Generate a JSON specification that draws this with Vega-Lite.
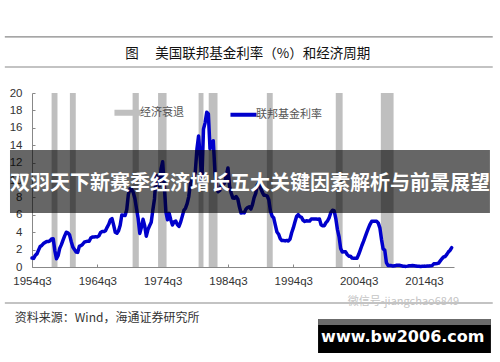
{
  "$schema": "https://vega.github.io/schema/vega-lite/v6.json",
  "width": 422,
  "height": 174,
  "autosize": "none",
  "padding": {"left": 32, "top": 93, "right": 46, "bottom": 95},
  "background": "white",
  "config": {
    "view": {"stroke": null},
    "font": "Noto Sans CJK SC",
    "axis": {"labelOverlap": false, "labelBound": false, "labelSeparation": 0}
  },
  "datasets": {
    "rate": [
      {"t":1954.5,"v":1.03},{"t":1954.75,"v":0.99},
      {"t":1955,"v":1.34},{"t":1955.25,"v":1.5},{"t":1955.5,"v":1.94},{"t":1955.75,"v":2.36},
      {"t":1956,"v":2.48},{"t":1956.25,"v":2.69},{"t":1956.5,"v":2.81},{"t":1956.75,"v":2.93},
      {"t":1957,"v":2.93},{"t":1957.25,"v":3.0},{"t":1957.5,"v":3.23},{"t":1957.75,"v":3.25},
      {"t":1958,"v":1.86},{"t":1958.25,"v":0.94},{"t":1958.5,"v":1.32},{"t":1958.75,"v":2.16},
      {"t":1959,"v":2.57},{"t":1959.25,"v":3.08},{"t":1959.5,"v":3.58},{"t":1959.75,"v":3.99},
      {"t":1960,"v":3.93},{"t":1960.25,"v":3.7},{"t":1960.5,"v":2.94},{"t":1960.75,"v":2.3},
      {"t":1961,"v":2.0},{"t":1961.25,"v":1.73},{"t":1961.5,"v":1.68},{"t":1961.75,"v":2.4},
      {"t":1962,"v":2.46},{"t":1962.25,"v":2.61},{"t":1962.5,"v":2.85},{"t":1962.75,"v":2.92},
      {"t":1963,"v":2.97},{"t":1963.25,"v":2.96},{"t":1963.5,"v":3.33},{"t":1963.75,"v":3.45},
      {"t":1964,"v":3.46},{"t":1964.25,"v":3.49},{"t":1964.5,"v":3.46},{"t":1964.75,"v":3.58},
      {"t":1965,"v":3.97},{"t":1965.25,"v":4.08},{"t":1965.5,"v":4.07},{"t":1965.75,"v":4.17},
      {"t":1966,"v":4.56},{"t":1966.25,"v":4.91},{"t":1966.5,"v":5.41},{"t":1966.75,"v":5.56},
      {"t":1967,"v":4.82},{"t":1967.25,"v":3.99},{"t":1967.5,"v":3.89},{"t":1967.75,"v":4.17},
      {"t":1968,"v":4.79},{"t":1968.25,"v":5.98},{"t":1968.5,"v":5.94},{"t":1968.75,"v":5.92},
      {"t":1969,"v":6.57},{"t":1969.25,"v":8.33},{"t":1969.5,"v":8.98},{"t":1969.75,"v":8.94},
      {"t":1970,"v":8.57},{"t":1970.25,"v":7.88},{"t":1970.5,"v":6.7},{"t":1970.75,"v":5.57},
      {"t":1971,"v":3.86},{"t":1971.25,"v":4.56},{"t":1971.5,"v":5.48},{"t":1971.75,"v":4.75},
      {"t":1972,"v":3.54},{"t":1972.25,"v":4.3},{"t":1972.5,"v":4.74},{"t":1972.75,"v":5.14},
      {"t":1973,"v":6.54},{"t":1973.25,"v":7.82},{"t":1973.5,"v":10.56},{"t":1973.75,"v":10.0},
      {"t":1974,"v":9.32},{"t":1974.25,"v":11.25},{"t":1974.5,"v":12.09},{"t":1974.75,"v":9.35},
      {"t":1975,"v":6.3},{"t":1975.25,"v":5.42},{"t":1975.5,"v":6.16},{"t":1975.75,"v":5.41},
      {"t":1976,"v":4.83},{"t":1976.25,"v":5.2},{"t":1976.5,"v":5.28},{"t":1976.75,"v":4.87},
      {"t":1977,"v":4.66},{"t":1977.25,"v":5.16},{"t":1977.5,"v":5.82},{"t":1977.75,"v":6.51},
      {"t":1978,"v":6.76},{"t":1978.25,"v":7.28},{"t":1978.5,"v":8.1},{"t":1978.75,"v":9.58},
      {"t":1979,"v":10.07},{"t":1979.25,"v":10.18},{"t":1979.5,"v":10.95},{"t":1979.75,"v":13.58},
      {"t":1980,"v":15.05},{"t":1980.25,"v":12.69},{"t":1980.5,"v":9.84},{"t":1980.75,"v":15.85},
      {"t":1981,"v":16.57},{"t":1981.25,"v":17.78},{"t":1981.5,"v":17.58},{"t":1981.75,"v":13.59},
      {"t":1982,"v":14.23},{"t":1982.25,"v":14.51},{"t":1982.5,"v":11.01},{"t":1982.75,"v":9.29},
      {"t":1983,"v":8.65},{"t":1983.25,"v":8.8},{"t":1983.5,"v":9.46},{"t":1983.75,"v":9.43},
      {"t":1984,"v":9.69},{"t":1984.25,"v":10.56},{"t":1984.5,"v":11.39},{"t":1984.75,"v":9.27},
      {"t":1985,"v":8.48},{"t":1985.25,"v":7.92},{"t":1985.5,"v":7.9},{"t":1985.75,"v":8.1},
      {"t":1986,"v":7.83},{"t":1986.25,"v":6.92},{"t":1986.5,"v":6.21},{"t":1986.75,"v":6.27},
      {"t":1987,"v":6.22},{"t":1987.25,"v":6.65},{"t":1987.5,"v":6.84},{"t":1987.75,"v":6.92},
      {"t":1988,"v":6.66},{"t":1988.25,"v":7.16},{"t":1988.5,"v":7.98},{"t":1988.75,"v":8.47},
      {"t":1989,"v":9.44},{"t":1989.25,"v":9.73},{"t":1989.5,"v":9.08},{"t":1989.75,"v":8.61},
      {"t":1990,"v":8.25},{"t":1990.25,"v":8.24},{"t":1990.5,"v":8.16},{"t":1990.75,"v":7.74},
      {"t":1991,"v":6.43},{"t":1991.25,"v":5.86},{"t":1991.5,"v":5.64},{"t":1991.75,"v":4.82},
      {"t":1992,"v":4.02},{"t":1992.25,"v":3.77},{"t":1992.5,"v":3.26},{"t":1992.75,"v":3.04},
      {"t":1993,"v":3.04},{"t":1993.25,"v":3.0},{"t":1993.5,"v":3.06},{"t":1993.75,"v":2.99},
      {"t":1994,"v":3.21},{"t":1994.25,"v":3.94},{"t":1994.5,"v":4.49},{"t":1994.75,"v":5.17},
      {"t":1995,"v":5.81},{"t":1995.25,"v":6.02},{"t":1995.5,"v":5.8},{"t":1995.75,"v":5.72},
      {"t":1996,"v":5.36},{"t":1996.25,"v":5.24},{"t":1996.5,"v":5.31},{"t":1996.75,"v":5.28},
      {"t":1997,"v":5.28},{"t":1997.25,"v":5.52},{"t":1997.5,"v":5.53},{"t":1997.75,"v":5.51},
      {"t":1998,"v":5.52},{"t":1998.25,"v":5.5},{"t":1998.5,"v":5.53},{"t":1998.75,"v":4.86},
      {"t":1999,"v":4.73},{"t":1999.25,"v":4.75},{"t":1999.5,"v":5.09},{"t":1999.75,"v":5.31},
      {"t":2000,"v":5.68},{"t":2000.25,"v":6.27},{"t":2000.5,"v":6.52},{"t":2000.75,"v":6.47},
      {"t":2001,"v":5.59},{"t":2001.25,"v":4.33},{"t":2001.5,"v":3.5},{"t":2001.75,"v":2.13},
      {"t":2002,"v":1.73},{"t":2002.25,"v":1.75},{"t":2002.5,"v":1.74},{"t":2002.75,"v":1.44},
      {"t":2003,"v":1.25},{"t":2003.25,"v":1.25},{"t":2003.5,"v":1.02},{"t":2003.75,"v":1.0},
      {"t":2004,"v":1.0},{"t":2004.25,"v":1.01},{"t":2004.5,"v":1.43},{"t":2004.75,"v":1.95},
      {"t":2005,"v":2.47},{"t":2005.25,"v":2.94},{"t":2005.5,"v":3.46},{"t":2005.75,"v":3.98},
      {"t":2006,"v":4.46},{"t":2006.25,"v":4.91},{"t":2006.5,"v":5.25},{"t":2006.75,"v":5.25},
      {"t":2007,"v":5.26},{"t":2007.25,"v":5.25},{"t":2007.5,"v":5.07},{"t":2007.75,"v":4.5},
      {"t":2008,"v":3.18},{"t":2008.25,"v":2.09},{"t":2008.5,"v":1.94},{"t":2008.75,"v":0.51},
      {"t":2009,"v":0.18},{"t":2009.25,"v":0.18},{"t":2009.5,"v":0.16},{"t":2009.75,"v":0.12},
      {"t":2010,"v":0.13},{"t":2010.25,"v":0.19},{"t":2010.5,"v":0.19},{"t":2010.75,"v":0.19},
      {"t":2011,"v":0.16},{"t":2011.25,"v":0.09},{"t":2011.5,"v":0.08},{"t":2011.75,"v":0.07},
      {"t":2012,"v":0.1},{"t":2012.25,"v":0.15},{"t":2012.5,"v":0.14},{"t":2012.75,"v":0.16},
      {"t":2013,"v":0.14},{"t":2013.25,"v":0.12},{"t":2013.5,"v":0.08},{"t":2013.75,"v":0.09},
      {"t":2014,"v":0.07},{"t":2014.25,"v":0.09},{"t":2014.5,"v":0.09},{"t":2014.75,"v":0.1},
      {"t":2015,"v":0.11},{"t":2015.25,"v":0.12},{"t":2015.5,"v":0.13},{"t":2015.75,"v":0.16},
      {"t":2016,"v":0.36},{"t":2016.25,"v":0.37},{"t":2016.5,"v":0.4},{"t":2016.75,"v":0.45},
      {"t":2017,"v":0.7},{"t":2017.25,"v":0.95},{"t":2017.5,"v":1.15},{"t":2017.75,"v":1.2},
      {"t":2018,"v":1.45},{"t":2018.25,"v":1.74},{"t":2018.5,"v":1.92},{"t":2018.75,"v":2.22}
    ],
    "rec": [
      {"s":1957.5,"e":1958.4},
      {"s":1960.3,"e":1961.2},
      {"s":1969.9,"e":1970.85},
      {"s":1973.8,"e":1975.1},
      {"s":1980.0,"e":1980.75},
      {"s":1981.55,"e":1982.9},
      {"s":1990.45,"e":1991.35},
      {"s":2001.0,"e":2002.05},
      {"s":2007.9,"e":2009.85}
    ]
  },
  "resolve": {"scale": {"x": "independent", "y": "independent"}},
  "layer": [
    {
      "layer": [
        {
          "data": {"name": "rec"},
          "mark": {"type": "rect"},
          "encoding": {
            "x": {
              "field": "s", "type": "quantitative",
              "scale": {"domain": [1954.5, 2019.1], "nice": false, "zero": false},
              "axis": {
                "values": [1954.5, 1964.5, 1974.5, 1984.5, 1994.5, 2004.5, 2014.5],
                "labelExpr": "floor(datum.value) + 'q3'",
                "labelFlush": false,
                "labelOverlap": false,
                "labelFont": "Liberation Sans",
                "labelFontSize": 11.5,
                "labelColor": "#333",
                "domainColor": "#888",
                "tickColor": "#888",
                "tickSize": -3,
                "labelPadding": 11,
                "grid": false,
                "title": null
              }
            },
            "x2": {"field": "e"},
            "color": {
              "datum": "经济衰退",
              "scale": {"domain": ["经济衰退", "联邦基金利率"], "range": ["#bfbfbf", "#0000cc"]},
              "legend": {
                "orient": "none",
                "legendX": 90,
                "legendY": 14,
                "direction": "horizontal",
                "title": null,
                "symbolType": "stroke",
                "symbolSize": 680,
                "symbolStrokeWidth": 5,
                "columnPadding": 38,
                "labelFont": "Noto Sans CJK SC",
                "labelFontSize": 11,
                "labelColor": "#555",
                "labelOffset": 7,
                "encode": {
                  "symbols": {
                    "update": {
                      "stroke": {"scale": "color", "field": "value"},
                      "strokeWidth": {"signal": "datum.value === '经济衰退' ? 6 : 4"}
                    }
                  }
                }
              }
            }
          }
        },
        {
          "data": {"name": "rate"},
          "mark": {"type": "line", "strokeWidth": 3.5, "strokeJoin": "round", "strokeCap": "round"},
          "encoding": {
            "x": {"field": "t", "type": "quantitative"},
            "y": {
              "field": "v", "type": "quantitative",
              "scale": {"domain": [0, 20], "nice": false},
              "axis": {
                "values": [0, 2, 4, 6, 8, 10, 12, 14, 16, 18, 20],
                "labelOverlap": false,
                "labelFont": "Liberation Sans",
                "labelFontSize": 11.5,
                "labelColor": "#333",
                "domainColor": "#888",
                "tickColor": "#888",
                "tickSize": -3,
                "labelPadding": 13,
                "grid": false,
                "title": null
              }
            },
            "color": {"datum": "联邦基金利率"}
          }
        }
      ]
    },
    {
      "layer": [
        {
          "data": {"values": [{}]},
          "mark": {"type": "rule", "color": "#888", "strokeWidth": 1.2},
          "encoding": {
            "x": {"datum": 1950.34, "type": "quantitative", "scale": {"domain": [1954.5, 2019.1], "nice": false, "zero": false}, "axis": null},
            "x2": {"datum": 2025.03},
            "y": {"datum": 26.44, "type": "quantitative", "scale": {"domain": [0, 20], "nice": false, "zero": false}, "axis": null}
          }
        },
        {
          "data": {"values": [{}]},
          "mark": {"type": "rule", "color": "#888", "strokeWidth": 1.2},
          "encoding": {"x": {"datum": 1950.34, "axis": null}, "x2": {"datum": 2025.03}, "y": {"datum": 22.99, "axis": null}}
        },
        {
          "data": {"values": [{}]},
          "mark": {"type": "text", "align": "center", "baseline": "middle", "font": "Noto Sans CJK SC", "fontSize": 13.5, "color": "#111"},
          "encoding": {"x": {"datum": 1987.53, "axis": null}, "y": {"datum": 24.48, "axis": null}, "text": {"value": "图　 美国联邦基金利率（%）和经济周期"}}
        },
        {
          "data": {"values": [{}]},
          "mark": {"type": "rule", "color": "#888", "strokeWidth": 1.2},
          "encoding": {"x": {"datum": 1950.34, "axis": null}, "x2": {"datum": 2025.03}, "y": {"datum": -4.14, "axis": null}}
        },
        {
          "data": {"values": [{}]},
          "mark": {"type": "text", "align": "left", "baseline": "middle", "font": "Noto Sans CJK SC", "fontSize": 12, "color": "#333"},
          "encoding": {"x": {"datum": 1951.87, "axis": null}, "y": {"datum": -5.86, "axis": null}, "text": {"value": "资料来源：Wind，海通证券研究所"}}
        },
        {
          "data": {"values": [{}]},
          "mark": {"type": "text", "align": "left", "baseline": "middle", "font": "Noto Sans CJK SC", "fontSize": 11, "color": "#c4c4c4"},
          "encoding": {"x": {"datum": 2002.84, "axis": null}, "y": {"datum": -4.02, "axis": null}, "text": {"value": "微信号-jiangchao6849"}}
        },
        {
          "data": {"values": [{}]},
          "mark": {"type": "rect", "color": "black", "opacity": 0.6},
          "encoding": {"x": {"datum": 1951.13, "axis": null}, "x2": {"datum": 2024.6}, "y": {"datum": 13.45, "axis": null}, "y2": {"datum": 6.2}}
        },
        {
          "data": {"values": [{}]},
          "mark": {"type": "text", "align": "center", "baseline": "middle", "font": "Noto Sans CJK SC", "fontSize": 20, "fontWeight": "bold", "color": "white"},
          "encoding": {"x": {"datum": 1987.87, "axis": null}, "y": {"datum": 9.54, "axis": null}, "text": {"value": "双羽天下新赛季经济增长五大关键因素解析与前景展望"}}
        },
        {
          "data": {"values": [{}]},
          "mark": {"type": "rect", "color": "black", "opacity": 1},
          "encoding": {"x": {"datum": 1998.29, "axis": null}, "x2": {"datum": 2024.75}, "y": {"datum": -5.98, "axis": null}, "y2": {"datum": -9.89}}
        },
        {
          "data": {"values": [{}]},
          "mark": {"type": "rect", "color": "#6b6b6b", "opacity": 1},
          "encoding": {"x": {"datum": 1998.29, "axis": null}, "x2": {"datum": 2024.75}, "y": {"datum": -5.98, "axis": null}, "y2": {"datum": -6.67}}
        },
        {
          "data": {"values": [{}]},
          "mark": {"type": "text", "align": "center", "baseline": "middle", "font": "DejaVu Sans", "fontSize": 16, "fontWeight": "bold", "color": "white"},
          "encoding": {"x": {"datum": 2011.26, "axis": null}, "y": {"datum": -8.05, "axis": null}, "text": {"value": "www.bw2006.com"}}
        }
      ]
    }
  ]
}
